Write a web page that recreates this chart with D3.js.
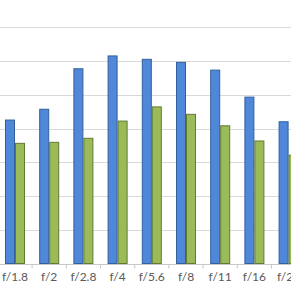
<!DOCTYPE html>
<html>
<head>
<meta charset="utf-8">
<script src="https://cdn.jsdelivr.net/npm/d3@7"></script>
<style>
  body { margin: 0; background: #fff; }
  svg { display: block; }
</style>
</head>
<body>
<div id="chart"></div>
<script>
// aperture stops and the two series (gridline = 10)
const stops = ["f/1.8", "f/2", "f/2.8", "f/4", "f/5.6", "f/8", "f/11", "f/16", "f/22"];
const blueVals = [42.5, 45.7, 57.7, 61.5, 60.5, 59.6, 57.3, 49.3, 42.0];
const greenVals = [35.6, 35.9, 37.1, 42.2, 46.4, 44.2, 40.8, 36.3, 32.1];
const yTicks = [10, 20, 30, 40, 50, 60, 70];

const width = 291, height = 291;
const baseY = 263.5;
const step = 34.2;
const x0 = 15 - step / 2;

const svg = d3.select("#chart").append("svg")
  .attr("width", width)
  .attr("height", height);

const x = d3.scaleBand()
  .domain(stops)
  .range([x0, x0 + step * stops.length])
  .paddingInner(0.415)
  .paddingOuter(0.2075);

const xs = d3.scaleBand()
  .domain(["blue", "green"])
  .range([0, x.bandwidth()]);

const y = d3.scaleLinear()
  .domain([0, 80])
  .range([baseY, baseY - 8 * 33.75]);

// gridlines
svg.append("g")
  .selectAll("line")
  .data(yTicks)
  .enter().append("line")
    .attr("x1", 0)
    .attr("x2", width)
    .attr("y1", d => Math.round(y(d)) + 0.5)
    .attr("y2", d => Math.round(y(d)) + 0.5)
    .attr("stroke", "#d9d9d9")
    .attr("stroke-width", 1.2);

// bars
const rows = stops.map((s, i) => ({stop: s, blue: blueVals[i], green: greenVals[i]}));
const colors = {blue: "#4f88d9", green: "#9bbb59"};
const strokes = {blue: "#335f9c", green: "#637a34"};

const grp = svg.append("g")
  .selectAll("g")
  .data(rows)
  .enter().append("g")
    .attr("transform", d => `translate(${x(d.stop)},0)`);

grp.selectAll("rect")
  .data(d => ["blue", "green"].map(k => ({key: k, value: d[k]})))
  .enter().append("rect")
    .attr("x", d => xs(d.key) + 0.5)
    .attr("y", d => y(d.value))
    .attr("width", xs.bandwidth() - 1)
    .attr("height", d => baseY - y(d.value))
    .attr("fill", d => colors[d.key])
    .attr("stroke", d => strokes[d.key])
    .attr("stroke-width", 1);

// x axis
const xAxis = svg.append("g")
  .attr("transform", `translate(0,${Math.round(baseY) + 0.5})`)
  .call(d3.axisBottom(x).tickSize(0).tickPadding(8));

xAxis.select(".domain").remove();
xAxis.append("line")
  .attr("x1", 0).attr("x2", width)
  .attr("stroke", "#c8c8c8").attr("stroke-width", 1.2);

// small ticks between categories
xAxis.selectAll(".sep")
  .data(stops)
  .enter().append("line")
    .attr("class", "sep")
    .attr("x1", d => x(d) - x.step() * x.paddingInner() / 2)
    .attr("x2", d => x(d) - x.step() * x.paddingInner() / 2)
    .attr("y1", 0).attr("y2", 4)
    .attr("stroke", "#c8c8c8");

xAxis.selectAll("text")
  .attr("fill", "#595959")
  .style("font-family", "Lato, 'Open Sans', sans-serif")
  .style("font-size", "12px");
</script>
</body>
</html>
